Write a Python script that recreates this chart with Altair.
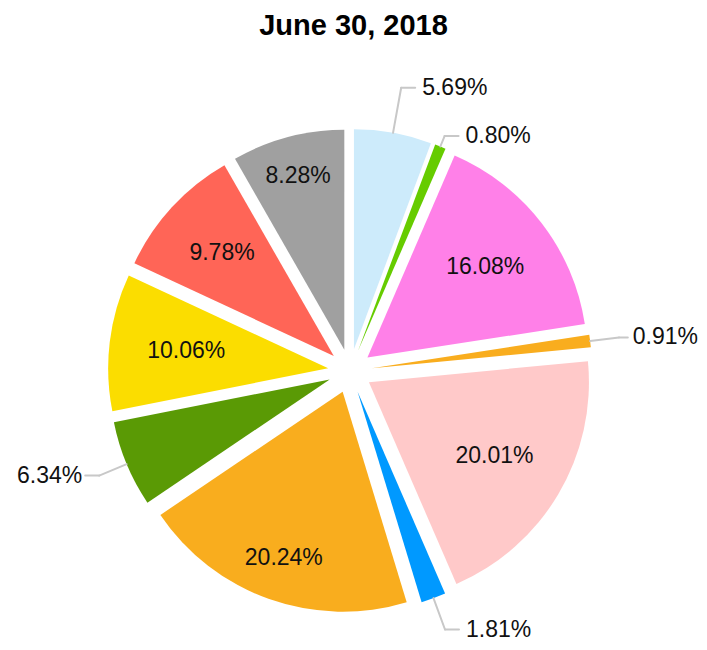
import altair as alt
import pandas as pd

# ---- data (clockwise from 12 o'clock) ----
slices = ["s01", "s02", "s03", "s04", "s05", "s06", "s07", "s08", "s09", "s10", "s11"]
values = [5.69, 0.80, 16.08, 0.91, 20.01, 1.81, 20.24, 6.34, 10.06, 9.78, 8.28]
colors = ["#CDEBFB", "#66CC00", "#FF80E8", "#F9AD1E", "#FFC9C9", "#0099FF",
          "#F9AD1E", "#5A9A05", "#FBDD00", "#FF6557", "#A0A0A0"]
title_text = "June 30, 2018"

# ---- layout constants (pixels, plot coordinates) ----
W, H = 691, 580
CX, CY = 342, 313        # pie centre
R = 220                  # outer radius
D = 22                   # explode distance
FONT = "Liberation Sans"
FS = 23

df = pd.DataFrame({"slice": slices, "value": values, "idx": list(range(len(values)))})

base = (
    alt.Chart(df)
    .transform_joinaggregate(total="sum(value)")
    .transform_window(cum="sum(value)", sort=[alt.SortField("idx", order="ascending")], frame=[None, 0])
    .transform_calculate(
        t0="2*PI*(datum.cum - datum.value)/datum.total",
        t1="2*PI*datum.cum/datum.total",
    )
    .transform_calculate(mid="(datum.t0 + datum.t1)/2")
    .transform_calculate(
        cx=f"{CX} + {D}*sin(datum.mid)",
        cy=f"{CY} - {D}*cos(datum.mid)",
        outv="datum.value < 7 ? 1 : 0",
        lbl="format(datum.value, '.2f') + '%'",
    )
    .transform_window(nextOut="lead(outv)", prevOut="lag(outv)", sort=[alt.SortField("idx", order="ascending")])
)

arcs = base.mark_arc(radius=R, stroke=None).encode(
    theta=alt.Theta("t0:Q", scale=None, stack=None),
    theta2="t1:Q",
    x=alt.X("cx:Q", scale=None, axis=None),
    y=alt.Y("cy:Q", scale=None, axis=None),
    color=alt.Color("slice:N", scale=alt.Scale(domain=slices, range=colors), legend=None),
)

inside = (
    base.transform_filter("datum.outv == 0")
    .transform_calculate(lr="143 + 42*pow(cos(datum.mid), 4)")
    .transform_calculate(
        lx="datum.cx + datum.lr*sin(datum.mid)",
        ly="datum.cy - datum.lr*cos(datum.mid)",
    )
    .mark_text(font=FONT, fontSize=FS, color="#111111", align="center", baseline="middle")
    .encode(x=alt.X("lx:Q", scale=None, axis=None), y=alt.Y("ly:Q", scale=None, axis=None), text="lbl:N")
)

outer = (
    base.transform_filter("datum.outv == 1")
    .transform_calculate(
        re=(f"{R} + 29 + 5*pow(cos(datum.mid), 2)"
            " + (datum.nextOut == 1 ? 12 : 0) - (datum.prevOut == 1 ? 22 : 0)"),
        sgn="sin(datum.mid) >= 0 ? 1 : -1",
        est=f"0.567*{FS}*length(datum.lbl)",
    )
    .transform_calculate(
        sx=f"datum.cx + {R}*sin(datum.mid)",
        sy=f"datum.cy - {R}*cos(datum.mid)",
        ex="datum.cx + datum.re*sin(datum.mid)",
        ey="datum.cy - datum.re*cos(datum.mid)",
    )
    .transform_calculate(tx="datum.ex + 14*datum.sgn")
    .transform_calculate(
        lx=f"datum.sgn > 0 ? min(datum.tx + 7, {W} - 1 - datum.est) : datum.tx - 3"
    )
    .transform_calculate(te="datum.sgn > 0 ? min(datum.tx, datum.lx - 5) : datum.tx")
)

line_color = "#C8C8C8"
seg1 = outer.mark_rule(color=line_color, strokeWidth=2, strokeCap="round").encode(
    x=alt.X("sx:Q", scale=None, axis=None), y=alt.Y("sy:Q", scale=None, axis=None),
    x2="ex:Q", y2="ey:Q",
)
seg2 = outer.mark_rule(color=line_color, strokeWidth=2, strokeCap="round").encode(
    x=alt.X("ex:Q", scale=None, axis=None), y=alt.Y("ey:Q", scale=None, axis=None),
    x2="te:Q", y2="ey:Q",
)
txt_right = outer.transform_filter("datum.sgn > 0").mark_text(
    font=FONT, fontSize=FS, color="#111111", align="left", baseline="middle"
).encode(x=alt.X("lx:Q", scale=None, axis=None), y=alt.Y("ey:Q", scale=None, axis=None), text="lbl:N")
txt_left = outer.transform_filter("datum.sgn < 0").mark_text(
    font=FONT, fontSize=FS, color="#111111", align="right", baseline="middle"
).encode(x=alt.X("lx:Q", scale=None, axis=None), y=alt.Y("ey:Q", scale=None, axis=None), text="lbl:N")

chart = (
    alt.layer(arcs, inside, seg1, seg2, txt_right, txt_left)
    .properties(
        width=W,
        height=H,
        padding={"left": 0, "top": 4, "right": 0, "bottom": 0},
        title=alt.TitleParams(
            title_text, font=FONT, fontSize=29, fontWeight="bold", color="#000000",
            anchor="middle", baseline="top", offset=17, frame="group",
        ),
    )
    .configure_view(stroke=None)
)

chart.save("out.html", embed_options={"renderer": "svg", "actions": False})
